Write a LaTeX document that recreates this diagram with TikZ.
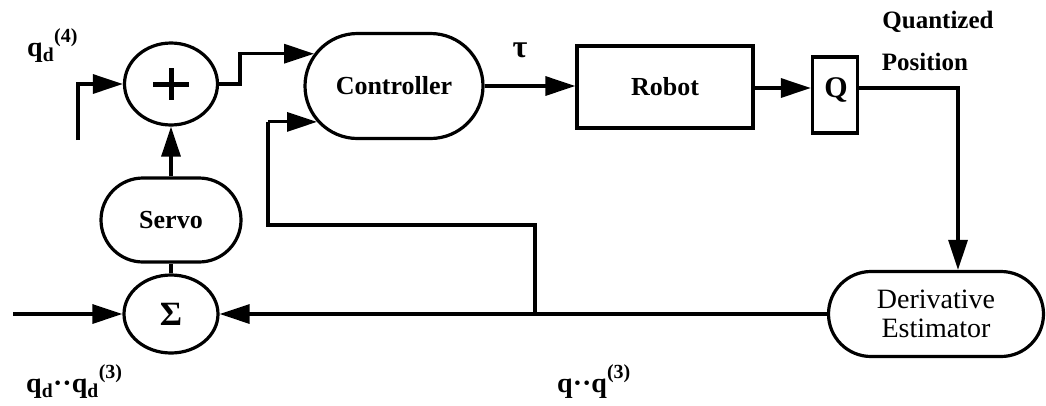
\documentclass[tikz,border=0pt]{standalone}
\usepackage{fontspec}
\setmainfont{Liberation Serif}
\usetikzlibrary{shapes.misc,shapes.geometric,arrows.meta,calc}
\tikzset{
  blk/.style={draw, line width=3.2pt, inner sep=0pt, font=\bfseries\fontsize{26}{28}\selectfont},
  stad/.style={blk, rounded rectangle},
  circ/.style={blk, ellipse},
  arr/.style={line width=3.2pt, -{Triangle[length=30pt,width=19pt]}},
  ln/.style={line width=3.2pt},
  lbl/.style={font=\bfseries\fontsize{28}{30}\selectfont, inner sep=0pt}
}
\newcommand{\supx}[1]{\raisebox{14pt}{\fontsize{20}{20}\selectfont #1}}
\begin{document}
\begin{tikzpicture}[x=1pt,y=-1pt]
\useasboundingbox (0,0) rectangle (1046,405);
% nodes
\node[circ, minimum width=93pt, minimum height=82pt] (plus) at (171,84) {};
\draw[line width=5pt] ($(plus.center)+(-18,0)$) -- ($(plus.center)+(18,0)$);
\draw[line width=5pt] ($(plus.center)+(0,-16)$) -- ($(plus.center)+(0,16)$);
\node[stad, minimum width=178pt, minimum height=105pt] (ctrl) at (394,86) {Controller};
\node[blk, rectangle, minimum width=176pt, minimum height=82pt] (robot) at (665,87) {Robot};
\node[blk, rectangle, minimum width=45pt, minimum height=76pt] (Q) at (835,95) {};
\node[lbl, font=\bfseries\fontsize{30}{32}\selectfont] (qtxt) at (836,90) {Q};
\node[stad, minimum width=140pt, minimum height=84pt] (servo) at (171,220) {Servo};
\node[circ, minimum width=94pt, minimum height=78pt, font=\bfseries\fontsize{34}{36}\selectfont] (sigma) at (171,314) {Σ};
\node[stad, minimum width=215pt, minimum height=85pt, align=center, font=\fontsize{28}{29}\selectfont] (de) at (936,314) {Derivative\\Estimator};
% labels
\node[lbl] (tau) at (520,50) {\fontsize{32}{32}\selectfont τ};
\node[lbl, anchor=west] (l1) at (27,46) {q\textsubscript{d}\supx{(4)}};
\node[lbl, anchor=west] (l2) at (26,382) {q\textsubscript{d}··q\textsubscript{d}\supx{(3)}};
\node[lbl, anchor=west] (l3) at (557,382) {q··q\supx{(3)}};
\node[lbl, font=\bfseries\fontsize{25}{27}\selectfont] (quant) at (938,22) {Quantized};
\node[lbl, font=\bfseries\fontsize{25}{27}\selectfont] (pos) at (925,62) {Position};
% coordinates
\coordinate (in1) at (78,140);
\coordinate (in2) at (13,314);
\coordinate (step1) at (240,84);
\coordinate (qturn) at (958,88);
\coordinate (J) at (535,314);
\coordinate (fb) at (268,225);
% connectors
\draw[arr] (in1) |- (plus.west);
\draw[arr] (plus.east) -- (step1) -- (step1 |- ctrl.158) -- (ctrl.158);
\draw[arr] (ctrl.east) -- (robot.west |- ctrl.east);
\draw[arr] (robot.east |- qturn) -- (Q.west |- qturn);
\draw[arr] (Q.east |- qturn) -- (qturn) -- (qturn |- de.north);
\draw[arr] (de.west) -- (sigma.east);
\draw[ln] (J) -- (J |- fb) -- (fb) -- (fb |- ctrl.205);
\draw[arr] (fb |- ctrl.205) -- (ctrl.205);
\draw[arr] (in2) -- (sigma.west);
\draw[ln] (sigma.north) -- (servo.south);
\draw[arr] (servo.north) -- (plus.south);
\end{tikzpicture}
\end{document}
